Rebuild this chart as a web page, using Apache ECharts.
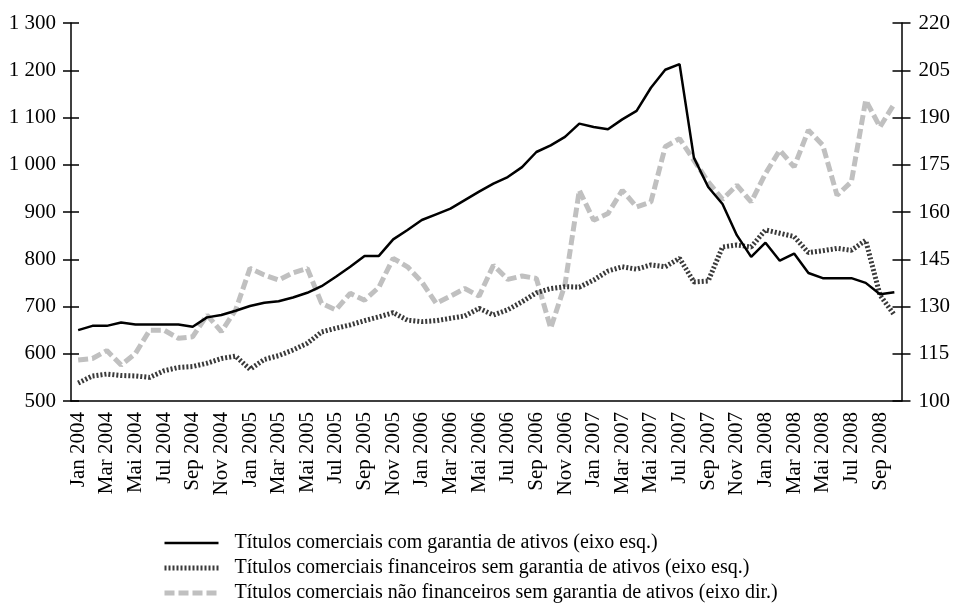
<!DOCTYPE html>
<html>
<head>
<meta charset="utf-8">
<script src="https://cdn.jsdelivr.net/npm/echarts@6/dist/echarts.min.js"></script>
</head>
<body style="margin:0; background:#fff">
<div id="container" style="width:953px; height:603px"></div>
<script>
// month names as printed on the axis (only odd months are labelled)
var monthNames = ['Jan', 'Feb', 'Mar', 'Apr', 'Mai', 'Jun', 'Jul', 'Aug', 'Sep', 'Okt', 'Nov', 'Dez'];
var years = [2004, 2005, 2006, 2007, 2008];
var lastMonth = 10; // Okt 2008

var months = [];
for (var y = 0; y < years.length; y++) {
  for (var m = 0; m < 12; m++) {
    if (years[y] === 2008 && m >= lastMonth) break;
    months.push(monthNames[m] + ' ' + years[y]);
  }
}

var seriesNames = [
  'Títulos comerciais com garantia de ativos (eixo esq.)',
  'Títulos comerciais financeiros sem garantia de ativos (eixo esq.)',
  'Títulos comerciais não financeiros sem garantia de ativos (eixo dir.)'
];

// left axis
var comGarantia = [650, 659, 659, 666, 662, 662, 662, 662, 657, 677, 682, 691,
  701, 708, 711, 719, 729, 743, 763, 784, 807, 807, 842, 862,
  883, 895, 907, 925, 943, 960, 974, 995, 1027, 1041, 1059, 1087,
  1080, 1075, 1096, 1114, 1163, 1201, 1213, 1015, 953, 917, 851, 805,
  835, 797, 812, 771, 760, 760, 760, 750, 726, 730];

var financeiros = [538, 553, 557, 554, 553, 550, 564, 571, 573, 580, 590, 595,
  567, 588, 596, 608, 622, 646, 654, 661, 670, 678, 687, 671,
  668, 670, 675, 680, 696, 682, 693, 710, 729, 738, 742, 741,
  756, 775, 784, 779, 788, 784, 802, 752, 754, 826, 830, 826,
  862, 855, 848, 814, 818, 823, 819, 840, 724, 682];

// right axis
var naoFinanceiros = [113.0, 113.5, 116.0, 111.4, 115.1, 122.5, 122.5, 119.9, 120.4, 127.3, 122.0, 128.9,
  142.1, 140.0, 138.4, 140.7, 142.1, 131.0, 128.9, 134.2, 132.0, 136.1, 145.3, 142.6,
  137.8, 131.0, 133.3, 135.7, 133.3, 143.1, 138.6, 139.7, 138.9, 123.1, 137.0, 166.9,
  157.4, 159.5, 166.9, 161.6, 163.2, 180.7, 183.3, 176.4, 169.6, 164.0, 168.5, 163.2,
  172.2, 179.6, 174.3, 186.0, 181.2, 165.3, 169.6, 195.5, 187.0, 194.4];

var font = "'Liberation Serif', 'Times New Roman', serif";

function spaced(v) {
  var s = String(v);
  return s.length > 3 ? s.slice(0, s.length - 3) + ' ' + s.slice(-3) : s;
}

var dom = document.getElementById('container');
var myChart = echarts.init(dom, null, {renderer: 'canvas'});

var option = {
  animation: false,
  backgroundColor: '#fff',
  grid: {left: 71, right: 51, top: 23, bottom: 202, containLabel: false},
  legend: {
    orient: 'vertical',
    left: 162,
    top: 533,
    padding: 0,
    height: 80,
    itemWidth: 54,
    itemHeight: 14,
    itemGap: 5,
    data: seriesNames,
    itemStyle: {opacity: 0},
    lineStyle: {width: 'inherit'},
    textStyle: {fontFamily: font, fontSize: 20, color: '#000', padding: [0, 0, 0, 11]}
  },
  xAxis: [{
    type: 'category',
    position: 'bottom',
    data: months,
    boundaryGap: true,
    axisLine: {onZero: false, lineStyle: {color: '#000', width: 1.5}},
    axisTick: {interval: 1, length: 6, lineStyle: {color: '#000', width: 1.5}},
    axisLabel: {interval: 1, rotate: 90, margin: 11, padding: [8, 0, 0, 0], color: '#000', fontFamily: font, fontSize: 21},
    splitLine: {show: false}
  }, {
    type: 'category',
    position: 'bottom',
    data: months,
    boundaryGap: true,
    axisLine: {show: false},
    axisTick: {interval: 1, inside: true, length: 9, lineStyle: {color: '#000', width: 1.5}},
    axisLabel: {show: false},
    splitLine: {show: false}
  }],
  yAxis: [{
    type: 'value',
    position: 'left',
    min: 500, max: 1300, interval: 100,
    axisLine: {show: true, onZero: false, lineStyle: {color: '#000', width: 1.5}},
    axisTick: {show: true, length: 8, lineStyle: {color: '#000', width: 1.5}},
    axisLabel: {margin: 15, color: '#000', fontFamily: font, fontSize: 21, formatter: spaced},
    splitLine: {show: false}
  }, {
    type: 'value',
    position: 'right',
    min: 100, max: 220, interval: 15,
    axisLine: {show: true, onZero: false, lineStyle: {color: '#000', width: 1.5}},
    axisTick: {show: true, length: 9, lineStyle: {color: '#000', width: 1.5}},
    axisLabel: {margin: 17, color: '#000', fontFamily: font, fontSize: 21},
    splitLine: {show: false}
  }, {
    type: 'value',
    position: 'left',
    min: 500, max: 1300, interval: 100,
    axisLine: {show: false},
    axisTick: {show: true, inside: true, length: 8, lineStyle: {color: '#000', width: 1.5}},
    axisLabel: {show: false},
    splitLine: {show: false}
  }, {
    type: 'value',
    position: 'right',
    min: 100, max: 220, interval: 15,
    axisLine: {show: false},
    axisTick: {show: true, inside: true, length: 9, lineStyle: {color: '#000', width: 1.5}},
    axisLabel: {show: false},
    splitLine: {show: false}
  }],
  series: [{
    name: seriesNames[2],
    type: 'line',
    yAxisIndex: 1,
    data: naoFinanceiros,
    symbol: 'none',
    color: '#c0c0c0',
    lineStyle: {color: '#c0c0c0', width: 5, type: [10, 4]}
  }, {
    name: seriesNames[1],
    type: 'line',
    yAxisIndex: 0,
    data: financeiros,
    symbol: 'none',
    color: '#3a3a3a',
    lineStyle: {color: '#3a3a3a', width: 5, type: [2, 2]}
  }, {
    name: seriesNames[0],
    type: 'line',
    yAxisIndex: 0,
    data: comGarantia,
    symbol: 'none',
    color: '#000',
    lineStyle: {color: '#000', width: 2.5}
  }]
};

myChart.setOption(option);
</script>
</body>
</html>
